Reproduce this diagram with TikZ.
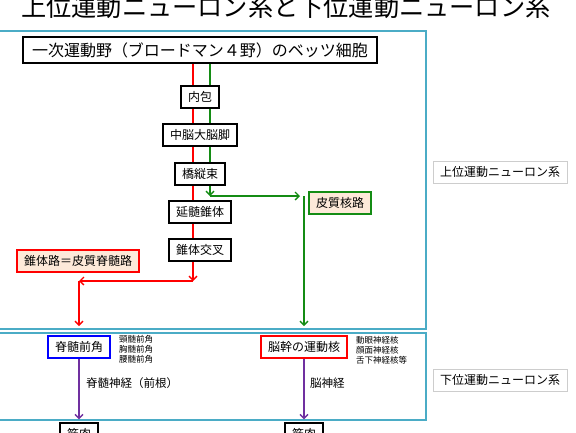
\documentclass[tikz,border=0pt]{standalone}
\usepackage{fontspec}
\setmainfont{Noto Sans CJK JP}
\usetikzlibrary{arrows.meta}

\definecolor{framecol}{RGB}{75,172,198}
\definecolor{tractgreen}{RGB}{20,140,20}
\definecolor{nervepurple}{RGB}{112,48,160}
\definecolor{peach}{RGB}{253,233,217}
\definecolor{sysgray}{RGB}{205,205,205}

\tikzset{
  frame/.style={draw=framecol,line width=1.6pt},
  box/.style={draw=black,line width=1.5pt,fill=white,inner xsep=7pt,minimum height=22pt,
    font=\fontsize{12}{14}\selectfont},
  tract/.style={box,fill=peach},
  nucleus/.style={box,line width=1.6pt},
  sysbox/.style={draw=sysgray,line width=0.6pt,fill=white,inner xsep=7pt,minimum height=22pt,
    font=\fontsize{12}{14}\selectfont},
  note/.style={anchor=west,inner sep=0pt,align=left,font=\fontsize{8.5}{10}\selectfont},
  nervelabel/.style={anchor=west,inner sep=0pt,font=\fontsize{11.5}{13}\selectfont},
  redline/.style={draw=red,line width=1.3pt},
  greenline/.style={draw=tractgreen,line width=1.3pt},
  nerve/.style={draw=nervepurple,line width=1.3pt,-{Straight Barb[length=4pt,width=8pt]}},
  tip/.style={-{Straight Barb[length=4pt,width=8pt]}}
}

\begin{document}
\begin{tikzpicture}[x=1pt,y=-1pt]
\useasboundingbox (0,0) rectangle (576,432);

% definitions
\coordinate (rtop) at (193,63);
\coordinate (rbend) at (193,281);
\coordinate (rleft) at (79,281);
\coordinate (rend) at (79,326);
\coordinate (gtop) at (210,63);
\coordinate (gbend) at (210,196);
\coordinate (gright) at (300,196);
\coordinate (gcorner) at (304,196);
\coordinate (gend) at (304,326);

% title and frames
\node[font=\fontsize{25.2}{28}\selectfont] (title) at (286,7.5) {上位運動ニューロン系と下位運動ニューロン系};
\draw[frame] (-5,31) rectangle (426,329);
\draw[frame] (-5,333) rectangle (426,420);

% tracts
\draw[redline,tip] (rtop) -- (rbend);
\draw[redline,tip] (rbend) -- (rleft);
\draw[redline,tip] (rleft) -- (rend);
\draw[greenline,tip] (gtop) -- (gbend);
\draw[greenline,tip] (gbend) -- (gright);
\draw[greenline,tip] (gcorner) -- (gend);

% upper motor neuron
\node[box,font=\fontsize{16}{18}\selectfont,inner xsep=9pt,minimum height=26pt] (betz) at (200,50) {一次運動野（ブロードマン４野）のベッツ細胞};
\node[box] (naiho) at (200,97) {内包};
\node[box] (chuno) at (200,135) {中脳大脳脚};
\node[box] (kyo) at (200,174) {橋縦束};
\node[box] (enzui) at (200,212) {延髄錐体};
\node[box] (kosa) at (200,250) {錐体交叉};
\node[tract,draw=tractgreen] (kakuro) at (340,203) {皮質核路};
\node[tract,draw=red] (suitairo) at (78,261) {錐体路＝皮質脊髄路};

% lower motor neuron
\node[nucleus,draw=blue] (zenkaku) at (79,347) {脊髄前角};
\node[nucleus,draw=red] (unkaku) at (304,347) {脳幹の運動核};
\node[note] (zenkakulist) at (119,349) {頸髄前角\\胸髄前角\\腰髄前角};
\node[note] (unkakulist) at (356,350) {動眼神経核\\顔面神経核\\舌下神経核等};
\node[box] (kin1) at (79,434) {筋肉};
\node[box] (kin2) at (304,434) {筋肉};
\draw[nerve,shorten >=3pt] (zenkaku) -- (kin1);
\draw[nerve,shorten >=3pt] (unkaku) -- (kin2);
\node[nervelabel] (sekizuishinkei) at (86,383) {脊髄神経（前根）};
\node[nervelabel] (noshinkei) at (310,383) {脳神経};

% labels
\node[sysbox] (joui) at (500,172) {上位運動ニューロン系};
\node[sysbox] (kai) at (500,380) {下位運動ニューロン系};
\end{tikzpicture}
\end{document}
